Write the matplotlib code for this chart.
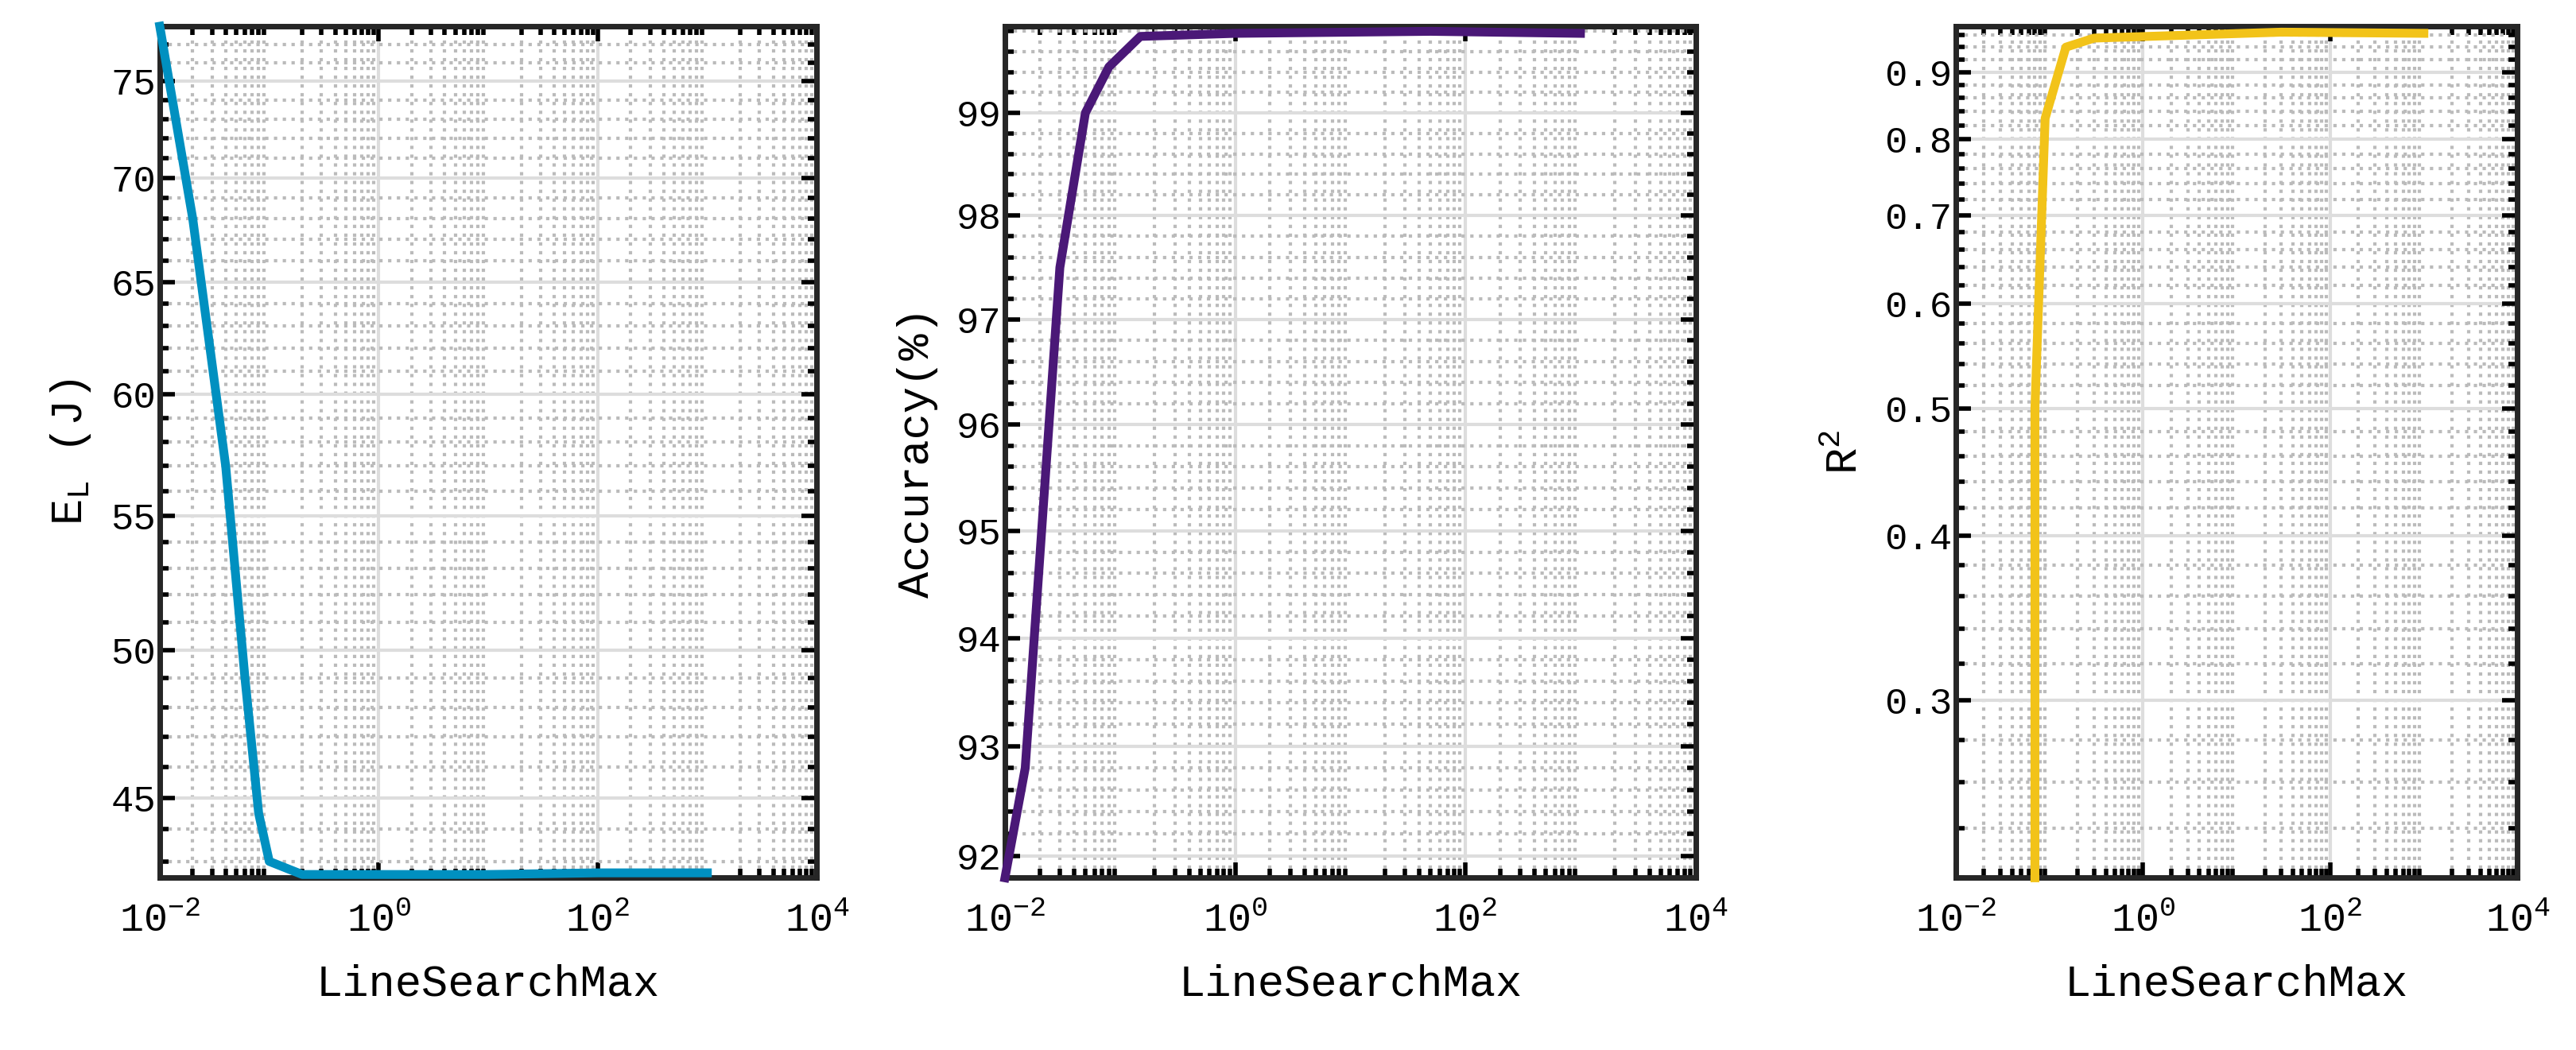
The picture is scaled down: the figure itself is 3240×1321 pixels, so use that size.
import matplotlib
matplotlib.use("Agg")
import matplotlib.pyplot as plt
from matplotlib.ticker import FixedLocator, NullFormatter, LogLocator, MultipleLocator

plt.rcParams['font.family'] = ['Liberation Mono', 'DejaVu Sans Mono']
plt.rcParams['mathtext.fontset'] = 'custom'
plt.rcParams['mathtext.rm'] = 'Liberation Mono'

x1 = [0.01, 0.02, 0.04, 0.06, 0.08, 0.1, 0.2, 1, 10, 100, 1000]
y1 = [78, 68, 57, 49, 44.5, 43.0, 42.6, 42.6, 42.6, 42.65, 42.65]
x2 = [0.01, 0.015, 0.03, 0.05, 0.08, 0.15, 1, 50, 1000]
y2 = [91.8, 92.8, 97.5, 99.0, 99.45, 99.75, 99.78, 99.8, 99.78]
x3 = [0.07, 0.07, 0.09, 0.15, 0.3, 30, 1000]
y3 = [0.22, 0.5, 0.83, 0.94, 0.955, 0.965, 0.963]

panels = [
    dict(x=x1, y=y1, color='#0090c0', ylim=(42.5, 78), yt=[45, 50, 55, 60, 65, 70, 75], ym=1.0,
         ylab='E$_{\\mathrm{L}}$ (J)', pos=[0.062, 0.164, 0.255, 0.811]),
    dict(x=x2, y=y2, color='#4a1877', ylim=(91.8, 99.85), yt=[92, 93, 94, 95, 96, 97, 98, 99], ym=0.2,
         ylab='Accuracy(%)', pos=[0.390, 0.164, 0.268, 0.811]),
    dict(x=x3, y=y3, color='#f2c319', ylim=(0.22, 0.975), yt=[0.3, 0.4, 0.5, 0.6, 0.7, 0.8, 0.9], ym=0.02,
         ylab='R$^2$', pos=[0.759, 0.164, 0.218, 0.811]),
]

fig = plt.figure(figsize=(32.41, 13.21), dpi=100)
for p in panels:
    ax = fig.add_axes(p['pos'])
    ax.set_xscale('log')
    ax.set_yscale('log')
    ax.plot(p['x'], p['y'], color=p['color'], lw=8, zorder=3, clip_on=False,
            solid_joinstyle='round')
    ax.set_xlim(1e-2, 1e4)
    ax.set_ylim(*p['ylim'])
    ax.xaxis.set_major_locator(FixedLocator([1e-2, 1, 1e2, 1e4]))
    ax.xaxis.set_minor_locator(LogLocator(base=10, subs=range(2, 10), numticks=20))
    ax.xaxis.set_minor_formatter(NullFormatter())
    ax.set_xticklabels(['$10^{-2}$', '$10^{0}$', '$10^{2}$', '$10^{4}$'])
    ax.yaxis.set_major_locator(FixedLocator(p['yt']))
    ax.yaxis.set_minor_locator(MultipleLocator(p['ym']))
    ax.yaxis.set_minor_formatter(NullFormatter())
    ax.set_yticklabels([str(v) for v in p['yt']])
    ax.grid(True, which='major', color='#dddddd', lw=3, ls='-')
    ax.grid(True, which='minor', color='#bbbbbb', lw=3, ls=':')
    ax.tick_params(which='both', direction='in', top=True, right=True, labelsize=34, width=4)
    ax.tick_params(which='major', length=14)
    ax.tick_params(which='minor', length=8)
    ax.tick_params(axis='x', pad=22, labelsize=36)
    for s in ax.spines.values():
        s.set_linewidth(5)
        s.set_color('#262626')
    ax.set_xlabel('LineSearchMax', fontsize=40, labelpad=22)
    ax.set_ylabel(p['ylab'], fontsize=40, labelpad=16)

fig.savefig('out.png', dpi=100)
